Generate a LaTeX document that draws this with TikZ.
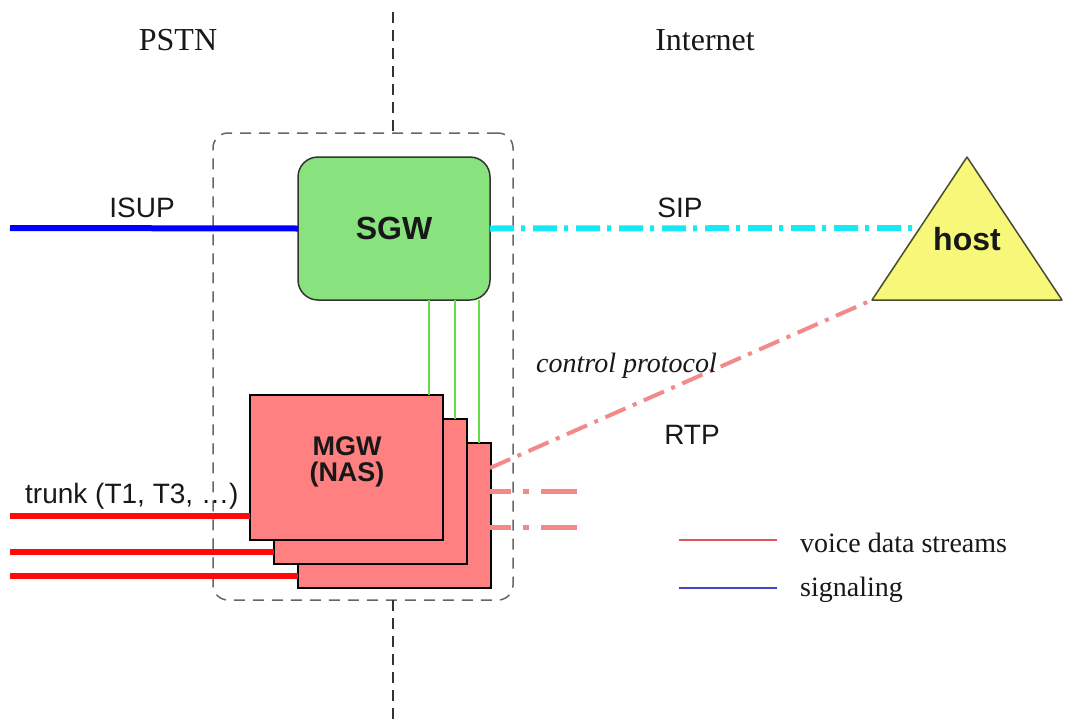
\documentclass[tikz,border=0pt]{standalone}
\usepackage{fontspec}
\setmainfont{Liberation Serif}
\setsansfont{Liberation Sans}
\usetikzlibrary{calc}
\definecolor{sgwgreen}{HTML}{88E27E}
\definecolor{mgwred}{HTML}{FF8080}
\definecolor{hostyellow}{HTML}{F7F77A}
\definecolor{isupblue}{HTML}{0000FF}
\definecolor{sipcyan}{HTML}{18E8F2}
\definecolor{ctlsalmon}{HTML}{F38A8A}
\definecolor{trunkred}{HTML}{FF0A0A}
\definecolor{linkgreen}{HTML}{66DD44}
\definecolor{legred}{HTML}{E05555}
\definecolor{legblue}{HTML}{4545C5}
\definecolor{txt}{HTML}{181818}
\definecolor{dashgray}{HTML}{666666}
\definecolor{hostedge}{HTML}{4A4A30}
\begin{document}
\begin{tikzpicture}[x=1pt,y=-1pt,
  serifbig/.style={font=\fontsize{32}{32}\selectfont, text=txt, inner sep=0pt},
  seriflab/.style={font=\fontsize{28}{28}\selectfont, text=txt, inner sep=0pt},
  sanslab/.style={font=\sffamily\fontsize{28}{28}\selectfont, text=txt, inner sep=0pt},
  sansbold/.style={font=\sffamily\bfseries\fontsize{27}{27}\selectfont, text=txt, inner sep=0pt},
  region/.style={draw=dashgray, line width=1.5pt, dash pattern=on 11pt off 8pt, rounded corners=15pt, inner sep=0pt, outer sep=0pt},
  divider/.style={draw=black!80, line width=1.5pt, dash pattern=on 11pt off 7pt},
  sgwbox/.style={draw=black!80, fill=sgwgreen, line width=1.5pt, rounded corners=20pt, minimum width=192pt, minimum height=143pt, inner sep=0pt, outer sep=0pt, font=\sffamily\bfseries\fontsize{32}{32}\selectfont, text=txt},
  mgwbox/.style={draw=black, fill=mgwred, line width=1.5pt, minimum width=193pt, minimum height=145pt, inner sep=0pt, outer sep=0pt},
  isup/.style={draw=isupblue, line width=6pt},
  sip/.style={draw=sipcyan, line width=6pt, dash pattern=on 24pt off 7pt on 4pt off 8pt},
  ctl/.style={draw=ctlsalmon, line width=4pt, dash pattern=on 22pt off 8pt on 4pt off 8pt},
  rtp/.style={draw=ctlsalmon, line width=5pt, dash pattern=on 36pt off 12pt on 6pt off 12pt, dash phase=15pt},
  trunk/.style={draw=trunkred, line width=6pt},
  link/.style={draw=linkgreen, line width=1.5pt},
  legline/.style={line width=2pt}
]
\useasboundingbox (0,0) rectangle (1065,723);
\fill[white] (0,0) rectangle (1065,723);

% region box and divider
\node[region, anchor=north west, minimum width=300pt, minimum height=467pt] (gw) at (213,133) {};
\coordinate (divtop) at (393,12);
\coordinate (divbot) at (393,723);
\draw[divider] (divtop) -- (divtop |- gw.north);
\draw[divider] (gw.south -| divbot) -- (divbot);

% top labels
\node[serifbig, anchor=base] (pstn) at (178,50) {PSTN};
\node[serifbig, anchor=base] (inet) at (705,50) {Internet};

% SGW
\node[sgwbox, anchor=north west] (sgw) at (298,157) {SGW};

% host triangle
\coordinate (hapex) at (967,157);
\coordinate (hsw) at (872,300);
\coordinate (hse) at (1062,300);
\fill[hostyellow] (hapex) -- (hsw) -- (hse) -- cycle;
\draw[hostedge, line width=1.5pt, line join=round] (hapex) -- (hsw) -- (hse) -- cycle;
\node[font=\sffamily\bfseries\fontsize{32}{32}\selectfont, text=txt, inner sep=0pt, anchor=base] (host) at (967,250) {host};
\coordinate (hostw) at (920,228);

% ISUP / SIP
\coordinate (isupstart) at (10,228);
\draw[isup] (isupstart) -- (sgw.west);
\node[sanslab, anchor=base] (isuplab) at (142,217) {ISUP};
\draw[sip] (sgw.east) -- (hostw);
\node[sanslab, anchor=base] (siplab) at (680,217) {SIP};

% MGW stack
\node[mgwbox, anchor=north west] (mgw3) at (298,443) {};
\node[mgwbox, anchor=north west] (mgw2) at (274,419) {};
\node[mgwbox, anchor=north west] (mgw1) at (250,395) {};
\node[sansbold, anchor=base] (mgwt) at (347,455) {MGW};
\node[sansbold, anchor=base] (nast) at (347,481) {(NAS)};

% green links SGW -> MGWs
\path (mgw1.north east) ++(-14,0) coordinate (g1);
\path (mgw2.north east) ++(-12,0) coordinate (g2);
\path (mgw3.north east) ++(-12,0) coordinate (g3);
\draw[link] (g1) -- (g1 |- sgw.south);
\draw[link] (g2) -- (g2 |- sgw.south);
\draw[link] (g3) -- (g3 |- sgw.south);

% trunks
\coordinate (t1) at (10,516);
\coordinate (t2) at (10,552);
\coordinate (t3) at (10,576);
\draw[trunk] (t1) -- (t1 -| mgw1.west);
\draw[trunk] (t2) -- (t2 -| mgw2.west);
\draw[trunk] (t3) -- (t3 -| mgw3.west);
\node[sanslab, anchor=base west] (trunklab) at (25,503) {trunk (T1, T3, \dots)};

% control protocol and RTP
\coordinate (ctlstart) at (490,468);
\draw[ctl] (ctlstart) -- (hsw);
\node[seriflab, font=\itshape\fontsize{28}{28}\selectfont, anchor=base west] (ctllab) at (536,372) {control protocol};
\node[sanslab, anchor=base] (rtplab) at (692,444) {RTP};
\coordinate (rtp1) at (490,491);
\coordinate (rtp1e) at (581,491);
\coordinate (rtp2) at (490,527);
\coordinate (rtp2e) at (581,527);
\draw[rtp] (rtp1) -- (rtp1e);
\draw[rtp] (rtp2) -- (rtp2e);

% legend
\coordinate (lr1) at (679,540);
\coordinate (lr2) at (777,540);
\coordinate (lb1) at (679,588);
\coordinate (lb2) at (777,588);
\draw[legline, legred] (lr1) -- (lr2);
\draw[legline, legblue] (lb1) -- (lb2);
\node[seriflab, anchor=base west] (legv) at (800,552) {voice data streams};
\node[seriflab, anchor=base west] (legs) at (800,596) {signaling};
\end{tikzpicture}
\end{document}
